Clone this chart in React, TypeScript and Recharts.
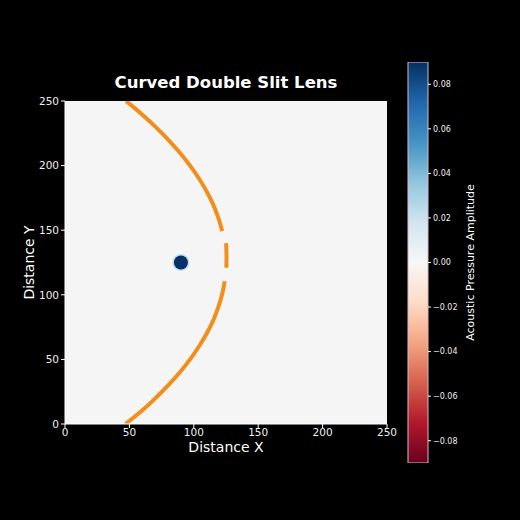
import React from 'react';
import { ComposedChart, Scatter, Line, Bar, XAxis, YAxis, ReferenceArea, Label } from 'recharts';

const title = 'Curved Double Slit Lens';
const xLabel = 'Distance X';
const yLabel = 'Distance Y';
const cbLabel = 'Acoustic Pressure Amplitude';
const axisTicks = [0, 50, 100, 150, 200, 250];
const cbTicks = [-0.08, -0.06, -0.04, -0.02, 0, 0.02, 0.04, 0.06, 0.08];
const cbRange = [{ name: 'amplitude', range: [-0.09, 0.09] }];

const topArc = [
  { x: 47.5, y: 250 }, { x: 59.4, y: 240 }, { x: 70.3, y: 230 }, { x: 80.2, y: 220 },
  { x: 89.2, y: 210 }, { x: 97.1, y: 200 }, { x: 104.0, y: 190 }, { x: 110.0, y: 180 },
  { x: 115.0, y: 170 }, { x: 118.9, y: 160 }, { x: 121.9, y: 150 }, { x: 122.1, y: 149.3 },
];
const middleSlit = [{ x: 125.1, y: 140 }, { x: 125.4, y: 130 }, { x: 125.3, y: 121 }];
const bottomArc = [
  { x: 124.0, y: 110.5 }, { x: 121.9, y: 100 }, { x: 118.9, y: 90 }, { x: 115.0, y: 80 },
  { x: 110.0, y: 70 }, { x: 104.0, y: 60 }, { x: 97.1, y: 50 }, { x: 89.2, y: 40 },
  { x: 80.2, y: 30 }, { x: 70.3, y: 20 }, { x: 59.4, y: 10 }, { x: 47.0, y: 0 },
];
const source = [{ x: 90, y: 125 }];

const rdbu = ['#053061', '#2166ac', '#4393c3', '#92c5de', '#d1e5f0', '#f7f7f7', '#fddbc7', '#f4a582', '#d6604d', '#b2182b', '#67001f'];

const FONT = 'DejaVu Sans, sans-serif';
const lensColor = '#f28e1c';

const fmt = (v: number) => (v < 0 ? '\u2212' + Math.abs(v).toFixed(2) : v.toFixed(2));

const SourceDot = (props: any) => (
  <g>
    <circle cx={props.cx} cy={props.cy} r={8.5} fill="#9ecae1" opacity={0.6} />
    <circle cx={props.cx} cy={props.cy} r={7} fill="#08306b" />
  </g>
);

export default function App() {
  return (
    <div style={{ position: 'absolute', left: 0, top: 0, width: 520, height: 520, background: '#000', fontFamily: FONT }}>
      <div style={{ position: 'absolute', left: 0, top: 0 }}>
        <ComposedChart width={400} height={520} margin={{ top: 101, right: 13, bottom: 66, left: 25 }}>
          <ReferenceArea x1={0} x2={250} y1={0} y2={250} fill="#f5f5f5" fillOpacity={1} stroke="none" />
          <XAxis type="number" dataKey="x" domain={[0, 250]} ticks={axisTicks} height={30}
            allowDataOverflow tick={{ fill: '#eeeeee', fontSize: 10.5, fontFamily: FONT }}
            stroke="#ffffff" tickSize={4} tickMargin={1}>
            <Label value={xLabel} position="insideBottom" offset={2} fill="#ffffff" fontSize={14} fontFamily={FONT} />
          </XAxis>
          <YAxis type="number" dataKey="y" domain={[0, 250]} ticks={axisTicks} width={40}
            allowDataOverflow tick={{ fill: '#eeeeee', fontSize: 10.5, fontFamily: FONT }}
            stroke="#ffffff" tickSize={4} tickMargin={2}>
            <Label content={(p: any) => {
              const vb = p.viewBox;
              const cx = vb.x + 4;
              const cy = vb.y + vb.height / 2;
              return <text x={cx} y={cy} transform={`rotate(-90, ${cx}, ${cy})`} textAnchor="middle" dominantBaseline="central" fill="#ffffff" fontSize={14} fontFamily={FONT}>{yLabel}</text>;
            }} />
          </YAxis>
          <Line data={topArc} dataKey="y" type="monotoneY" stroke={lensColor} strokeWidth={4} dot={false} isAnimationActive={false} />
          <Line data={middleSlit} dataKey="y" type="monotoneY" stroke={lensColor} strokeWidth={4} dot={false} isAnimationActive={false} />
          <Line data={bottomArc} dataKey="y" type="monotoneY" stroke={lensColor} strokeWidth={4} dot={false} isAnimationActive={false} />
          <Scatter data={source} shape={SourceDot} isAnimationActive={false} />
          <text x={226} y={82} textAnchor="middle" dominantBaseline="central" fill="#ffffff" fontSize={16.5} fontWeight="bold" fontFamily={FONT}>{title}</text>
        </ComposedChart>
      </div>
      <div style={{ position: 'absolute', left: 400, top: 0 }}>
        <ComposedChart width={120} height={520} data={cbRange} barCategoryGap={0} margin={{ top: 62, right: 52, bottom: 57, left: 8 }}>
          <defs>
            <linearGradient id="rdbu" x1="0" y1="0" x2="0" y2="1">
              {rdbu.map((c, i) => <stop key={i} offset={i / (rdbu.length - 1)} stopColor={c} />)}
            </linearGradient>
          </defs>
          <XAxis type="category" dataKey="name" hide />
          <YAxis type="number" orientation="right" domain={[-0.09, 0.09]} ticks={cbTicks} width={40}
            allowDataOverflow tickFormatter={fmt} tick={{ fill: '#eeeeee', fontSize: 8, fontFamily: FONT }}
            axisLine={false} stroke="#ffffff" tickSize={3} tickMargin={2}>
            <Label content={(p: any) => {
              const vb = p.viewBox;
              const cx = vb.x + 42;
              const cy = vb.y + vb.height / 2;
              return <text x={cx} y={cy} transform={`rotate(-90, ${cx}, ${cy})`} textAnchor="middle" dominantBaseline="central" fill="#ffffff" fontSize={11} fontFamily={FONT}>{cbLabel}</text>;
            }} />
          </YAxis>
          <Bar dataKey="range" fill="url(#rdbu)" stroke="#d8b8c8" strokeWidth={1} isAnimationActive={false} />
        </ComposedChart>
      </div>
    </div>
  );
}
